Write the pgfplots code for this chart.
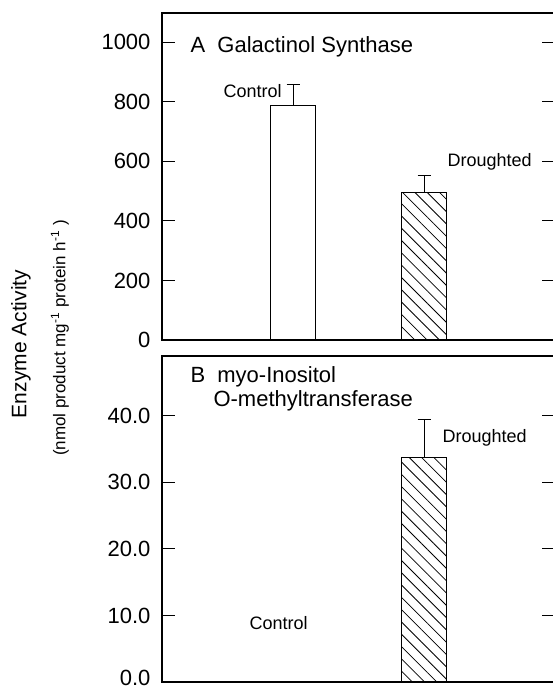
\documentclass[border=0pt]{standalone}
\usepackage{fontspec}
\setmainfont{Liberation Sans}
\usepackage{pgfplots}
\pgfplotsset{compat=1.18}
\usetikzlibrary{patterns.meta}

\pgfplotsset{
  panel/.style={
    scale only axis,
    width=393pt,
    xmin=0, xmax=3,
    ymin=0,
    xtick=\empty,
    ytick pos=both,
    yticklabel pos=left,
    tick align=inside,
    major tick length=13pt,
    axis line style={line width=1.2pt},
    tick style={line width=1pt, black},
    ticklabel style={font=\fontsize{22}{24}\selectfont},
    yticklabel style={xshift=-8pt},
    /pgf/number format/assume math mode=true,
    /pgf/number format/1000 sep={},
  },
  ctrlbar/.style={ybar, bar shift=0pt, bar width=0.34, fill=white, draw=black, line width=1pt},
  drbar/.style={ybar, bar shift=0pt, bar width=0.34, draw=black, line width=1pt,
    pattern={Lines[angle=-45, distance=8.7pt, line width=0.8pt]}},
  errs/.style={error bars/.cd, y dir=plus, y explicit,
    error bar style={line width=1pt, black},
    error mark options={rotate=90, black, mark size=6.5pt, line width=1pt}},
}

\begin{document}
\begin{tikzpicture}
\useasboundingbox (0pt,0pt) rectangle (552pt,688pt);

% panel A
\begin{axis}[panel, at={(162pt,348pt)}, anchor=south west,
  height=327pt, ymax=1098, ytick={0,200,...,1000}]
  \addplot[ctrlbar, errs] coordinates {(1,789) +- (0,70)};
  \addplot[drbar, errs] coordinates {(2,494) +- (0,57)};
\end{axis}

% panel B
\begin{axis}[panel, at={(162pt,6pt)}, anchor=south west,
  height=326pt, ymax=49, ytick={0,10,...,40},
  yticklabels={\raisebox{8pt}{0.0},10.0,20.0,30.0,40.0}]
  \addplot[drbar, errs] coordinates {(2,33.8) +- (0,5.7)};
\end{axis}

\node[anchor=base west, font=\fontsize{22}{24}\selectfont] at (187pt,635pt) {A\ \ Galactinol Synthase};
\node[anchor=base west, font=\fontsize{18}{20}\selectfont] at (220pt,590pt) {Control};
\node[anchor=base west, font=\fontsize{18}{20}\selectfont] at (444pt,521pt) {Droughted};

\node[anchor=base west, font=\fontsize{22}{24}\selectfont] at (187pt,305pt) {B\ \ myo-Inositol};
\node[anchor=base west, font=\fontsize{22}{24}\selectfont] at (210pt,281pt) {O-methyltransferase};
\node[anchor=base west, font=\fontsize{18}{20}\selectfont] at (439pt,245pt) {Droughted};
\node[anchor=base west, font=\fontsize{18}{20}\selectfont] at (246pt,58pt) {Control};

\node[rotate=90, font=\fontsize{21}{23}\selectfont] at (21pt,344pt) {Enzyme Activity};
\node[rotate=90, font=\fontsize{17}{19}\selectfont] at (60pt,350pt) {(nmol product mg\textsuperscript{-1} protein h\textsuperscript{-1} )};
\end{tikzpicture}
\end{document}
